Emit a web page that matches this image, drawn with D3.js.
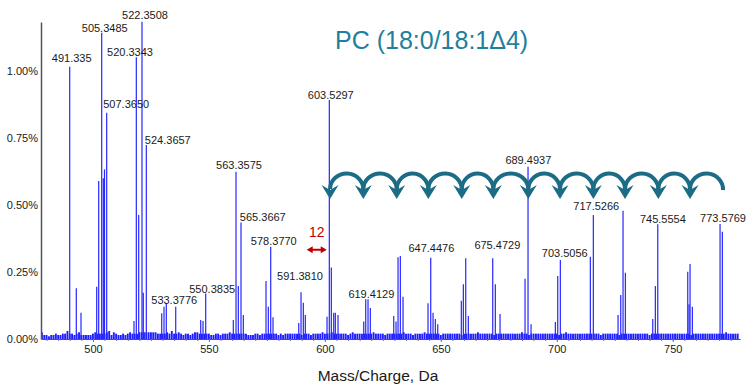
<!DOCTYPE html>
<html>
<head>
<meta charset="utf-8">
<script src="https://cdn.jsdelivr.net/npm/d3@7"></script>
<style>
  body { margin: 0; background: #fff; }
  text { font-family: "Liberation Sans", Arial, sans-serif; }
</style>
</head>
<body>
<div id="chart"></div>
<script>
const width = 750, height = 389;

// peaks: m/z (as read against the axis) and relative intensity in %
const peakMz = [
  489.98, 492.82, 494.85, 501.62, 502.48, 503.78, 504.47, 504.98, 505.93,
  517.70, 518.70, 519.73, 521.15, 521.71, 523.01,
  529.65, 530.64, 531.63, 535.69, 546.47, 547.46, 548.62,
  560.52, 561.69, 562.68, 563.84, 564.84,
  574.62, 575.62, 576.65, 577.64,
  588.73, 589.72, 590.71, 591.57,
  600.93, 601.92, 602.78, 603.82, 604.51, 605.67,
  616.76, 617.62, 618.61, 619.60,
  629.69, 630.68, 631.55, 632.54, 633.70,
  644.48, 645.65, 646.64, 647.63, 648.67,
  658.84, 659.71, 660.74, 661.86,
  672.38, 673.50, 675.53,
  686.31, 687.60, 688.90,
  699.38, 700.41, 701.53,
  714.47, 715.76,
  726.42, 727.58, 728.57, 729.57,
  741.38, 742.50, 743.54,
  756.47, 757.03, 757.46, 758.45,
  770.40, 771.39
];
const peakInt = [
  1.016, 0.189, 0.098, 0.195, 0.59, 1.143, 0.60, 0.633, 0.844,
  0.067, 1.051, 0.463, 1.184, 0.173, 0.724,
  0.096, 0.12, 0.133, 0.12, 0.071, 0.067, 0.17,
  0.071, 0.624, 0.198, 0.435, 0.09,
  0.216, 0.12, 0.344, 0.081,
  0.06, 0.174, 0.135, 0.09,
  0.083, 0.892, 0.267, 0.098, 0.098, 0.09,
  0.065, 0.148, 0.148, 0.116,
  0.086, 0.065, 0.305, 0.31, 0.158,
  0.133, 0.303, 0.098, 0.075, 0.055,
  0.143, 0.204, 0.301, 0.086,
  0.301, 0.204, 0.093,
  0.225, 0.643, 0.055,
  0.063, 0.235, 0.295,
  0.307, 0.463,
  0.09, 0.164, 0.479, 0.247,
  0.075, 0.198, 0.428,
  0.251, 0.13, 0.28, 0.12,
  0.429, 0.40
];

// baseline noise, one value per Da from 478 to 778 (%)
const noiseStart = 478;
const noiseInt = [
  .025,.015,.015,.01,.015,.015,.02,.015,.015,.02,
  .02,.03,.02,.02,.015,.02,.025,.015,.015,.015,
  .015,.015,.02,.025,.02,.02,.02,.02,.025,.03,
  .015,.025,.02,.015,.015,.02,.015,.02,.025,.02,
  .02,.02,.025,.025,.025,.025,.025,.025,.025,.025,
  .02,.02,.02,.02,.025,.02,.03,.02,.02,.025,
  .02,.015,.02,.02,.015,.02,.025,.025,.02,.02,
  .02,.02,.02,.015,.015,.02,.02,.015,.02,.02,
  .02,.025,.02,.02,.02,.02,.02,.02,.02,.015,
  .015,.015,.02,.02,.015,.02,.02,.02,.02,.02,
  .02,.02,.015,.02,.015,.02,.02,.02,.02,.02,
  .02,.02,.015,.02,.02,.02,.015,.02,.02,.02,
  .02,.025,.02,.02,.02,.025,.02,.02,.02,.02,
  .02,.02,.015,.02,.025,.02,.02,.02,.02,.02,
  .02,.02,.02,.025,.02,.02,.02,.02,.015,.02,
  .02,.02,.02,.02,.02,.02,.025,.02,.02,.02,
  .015,.02,.02,.02,.02,.025,.02,.02,.02,.02,
  .02,.02,.015,.02,.02,.02,.02,.02,.02,.02,
  .02,.015,.02,.02,.02,.02,.02,.02,.025,.02,
  .02,.02,.02,.02,.02,.015,.02,.02,.02,.02,
  .02,.02,.02,.02,.02,.02,.02,.025,.02,.02,
  .015,.02,.02,.02,.02,.02,.02,.02,.02,.02,
  .02,.02,.02,.015,.02,.02,.025,.02,.02,.02,
  .02,.02,.02,.02,.02,.02,.02,.02,.02,.02,
  .02,.015,.02,.02,.02,.02,.02,.02,.02,.015,
  .02,.02,.02,.02,.02,.02,.02,.02,.02,.02,
  .02,.02,.015,.02,.02,.02,.02,.02,.02,.02,
  .02,.02,.02,.02,.02,.02,.02,.02,.02,.02,
  .015,.02,.02,.02,.02,.02,.02,.02,.02,.02,
  .02,.02,.02,.02,.02,.025,.02,.02,.02,.02,
  .02
];

// peak labels: text, anchor peak m/z, anchor peak intensity
const labelText = [
  "491.335", "505.3485", "522.3508", "520.3343", "507.3650", "524.3657",
  "563.3575", "565.3667", "578.3770", "591.3810", "603.5297", "619.4129",
  "647.4476", "675.4729", "689.4937", "703.5056", "717.5266", "745.5554",
  "773.5769", "533.3776", "550.3835"
];
const labelMz = [
  489.98, 503.78, 521.15, 518.70, 505.93, 523.01,
  561.69, 563.84, 576.65, 589.72, 601.92, 617.62,
  645.65, 672.38, 687.60, 701.53, 715.76, 743.54,
  770.40, 535.69, 548.62
];
const labelInt = [
  1.016, 1.143, 1.184, 1.051, 0.844, 0.724,
  0.624, 0.435, 0.344, 0.174, 0.892, 0.148,
  0.303, 0.301, 0.643, 0.295, 0.463, 0.428,
  0.429, 0.12, 0.17
];
// pixel nudges of each label relative to its peak top
const labelNudge = [
  [2, -4.5], [3, -1], [3, -2.7], [-6.3, -1.6], [19.5, -4.4], [21.5, -0.7],
  [3, -2.7], [21.8, -1.6], [3.1, -1.7], [-1, -12.3], [1.5, -1], [5.6, -1],
  [0.6, -6], [4.6, -9], [0.3, -2.4], [4.4, -2.7], [2.9, -5], [5.1, -1],
  [3, -2.3], [-1.5, -2.7], [6.5, 0]
];

// 14 Da chain of arrows (head positions, last one is the tail only)
const arrowMz = [602.22, 616.58, 630.98, 644.62, 659.02, 672.64, 687.73,
                 701.40, 715.76, 729.43, 743.79, 757.46, 771.69];

// red gap annotation
const gapText = "12";
const gapFrom = 592.17, gapTo = 600.80, gapLevel = 0.333, gapTextLevel = 0.381;

const xTicks = [500, 550, 600, 650, 700, 750];
const yTicks = [0, 0.25, 0.5, 0.75, 1.0];

const xScale = d3.scaleLinear().domain([477.6, 779]).range([41, 740]);
const yScale = d3.scaleLinear().domain([0, 1.183]).range([339, 22]);

const svg = d3.select("#chart")
    .append("svg")
    .attr("width", width)
    .attr("height", height);

// noise
const noise = noiseInt.map((v, i) => ({mz: noiseStart + i, v: v}));
svg.append("g")
    .selectAll("line")
    .data(noise)
    .join("line")
    .attr("x1", d => xScale(d.mz))
    .attr("x2", d => xScale(d.mz))
    .attr("y1", yScale(0))
    .attr("y2", d => yScale(d.v))
    .attr("stroke", "#1e1eff")
    .attr("stroke-width", 1.9);

// peaks
const peaks = peakMz.map((m, i) => ({mz: m, v: peakInt[i]}));
svg.append("g")
    .selectAll("line")
    .data(peaks)
    .join("line")
    .attr("x1", d => xScale(d.mz))
    .attr("x2", d => xScale(d.mz))
    .attr("y1", yScale(0))
    .attr("y2", d => yScale(d.v))
    .attr("stroke", "#2626ff")
    .attr("stroke-width", 1.2);

// x axis
svg.append("g")
    .attr("transform", `translate(0,${yScale(0)})`)
    .call(d3.axisBottom(xScale).tickValues(d3.range(480, 779, 5)).tickSize(2).tickSizeOuter(0).tickFormat(""))
    .call(g => g.selectAll("line").attr("stroke", "#777"))
    .call(g => g.select(".domain").attr("stroke", "#555").attr("stroke-width", 1.2));
svg.append("g")
    .attr("transform", `translate(0,${yScale(0)})`)
    .call(d3.axisBottom(xScale).tickValues(xTicks).tickSize(3).tickPadding(3))
    .call(g => g.select(".domain").remove())
    .call(g => g.selectAll("line").attr("stroke", "#777"))
    .call(g => g.selectAll("text")
        .attr("font-family", "Liberation Sans, Arial, sans-serif")
        .attr("font-size", 11)
        .attr("fill", "#1a1a1a"));

// y axis
svg.append("g")
    .attr("transform", `translate(${xScale.range()[0]},0)`)
    .call(d3.axisLeft(yScale).tickValues(yTicks).tickSize(0).tickPadding(3)
        .tickFormat(d => d.toFixed(2) + "%"))
    .call(g => g.select(".domain").attr("stroke", "#555").attr("stroke-width", 1.5))
    .call(g => g.selectAll("text")
        .attr("font-family", "Liberation Sans, Arial, sans-serif")
        .attr("font-size", 11)
        .attr("fill", "#1a1a1a"));

// peak labels
svg.append("g")
    .selectAll("text")
    .data(labelText)
    .join("text")
    .attr("x", (d, i) => xScale(labelMz[i]) + labelNudge[i][0])
    .attr("y", (d, i) => yScale(labelInt[i]) + labelNudge[i][1])
    .attr("text-anchor", "middle")
    .attr("font-size", 11)
    .attr("fill", "#1a1a1a")
    .text(d => d);

// title
svg.append("text")
    .attr("x", 335)
    .attr("y", 49)
    .attr("font-size", 25)
    .attr("fill", "#1f7f9c")
    .text("PC (18:0/18:1Δ4)");

// arrow chain
const arrowColor = "#1b6c84";
const arrowBase = 189, arrowRy = 16;
const arcs = d3.range(arrowMz.length - 1).map(i => ({h: xScale(arrowMz[i]), t: xScale(arrowMz[i + 1])}));
svg.append("g")
    .selectAll("path")
    .data(arcs)
    .join("path")
    .attr("d", d => `M${d.t},${arrowBase + 1} A${(d.t - d.h) / 2},${arrowRy} 0 0 0 ${d.h},${arrowBase}`)
    .attr("fill", "none")
    .attr("stroke", arrowColor)
    .attr("stroke-width", 4);
svg.append("g")
    .selectAll("path")
    .data(arcs)
    .join("path")
    .attr("d", d => `M${d.h - 8.5},${arrowBase - 4} L${d.h},${arrowBase + 10} L${d.h + 8.5},${arrowBase - 4} L${d.h},${arrowBase + 1} Z`)
    .attr("fill", arrowColor);

// red gap marker
const red = "#c00000";
const gy = yScale(gapLevel), gx0 = xScale(gapFrom), gx1 = xScale(gapTo);
svg.append("line")
    .attr("x1", gx0 + 5).attr("x2", gx1 - 5)
    .attr("y1", gy).attr("y2", gy)
    .attr("stroke", red).attr("stroke-width", 2);
svg.append("path")
    .attr("d", `M${gx0},${gy} L${gx0 + 6},${gy - 3.5} L${gx0 + 6},${gy + 3.5} Z M${gx1},${gy} L${gx1 - 6},${gy - 3.5} L${gx1 - 6},${gy + 3.5} Z`)
    .attr("fill", red);
svg.append("text")
    .attr("x", (gx0 + gx1) / 2)
    .attr("y", yScale(gapTextLevel))
    .attr("text-anchor", "middle")
    .attr("font-size", 14)
    .attr("fill", red)
    .text(gapText);

// x axis title
svg.append("text")
    .attr("x", 378)
    .attr("y", 381)
    .attr("text-anchor", "middle")
    .attr("font-size", 15.5)
    .attr("fill", "#1a1a1a")
    .text("Mass/Charge, Da");
</script>
</body>
</html>
